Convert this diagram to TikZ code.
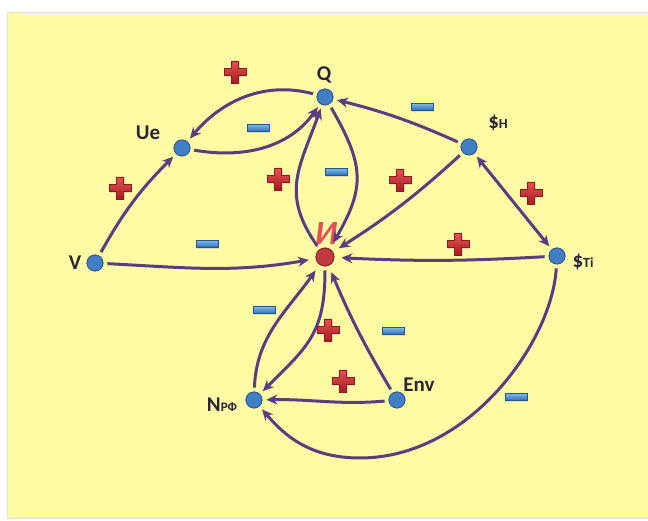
\documentclass[tikz,border=0pt]{standalone}
\usepackage{fontspec}
\setmainfont{Carlito}
\usetikzlibrary{arrows.meta}
\definecolor{bgy}{RGB}{254,251,165}
\definecolor{edgec}{RGB}{88,62,128}
\definecolor{dotb}{RGB}{66,126,196}
\definecolor{dotbd}{RGB}{45,90,150}
\definecolor{dotr}{RGB}{192,58,66}
\definecolor{dotrd}{RGB}{140,35,45}
\definecolor{txt}{RGB}{45,35,55}
\definecolor{ired}{RGB}{232,78,88}
\definecolor{plustop}{RGB}{232,82,82}
\definecolor{plusbot}{RGB}{165,28,32}
\definecolor{plusbd}{RGB}{140,25,30}
\definecolor{mintop}{RGB}{125,185,235}
\definecolor{minbot}{RGB}{45,110,185}
\definecolor{minbd}{RGB}{35,85,145}
\tikzset{
  dot/.style={circle, minimum size=16pt, inner sep=0pt, fill=dotb, draw=dotbd, line width=0.8pt},
  reddot/.style={circle, minimum size=18pt, inner sep=0pt, fill=dotr, draw=dotrd, line width=0.8pt},
  lbl/.style={text=txt, font=\fontsize{21}{21}\selectfont\bfseries, inner sep=0pt},
  conn/.style={draw=edgec, line width=3pt, -{Stealth[length=11pt,width=10pt]}, shorten >=4pt, shorten <=4pt},
  connI/.style={conn, shorten >=7pt},
  connboth/.style={draw=edgec, line width=3pt, {Stealth[length=11pt,width=10pt]}-{Stealth[length=11pt,width=10pt]}, shorten >=4pt, shorten <=4pt},
  plussign/.pic={
    \fill[black!25, opacity=0.5, shift={(1.2,-1.2)}] (-3.6,-11) -- (3.6,-11) -- (3.6,-3.6) -- (11,-3.6) -- (11,3.6) -- (3.6,3.6) -- (3.6,11) -- (-3.6,11) -- (-3.6,3.6) -- (-11,3.6) -- (-11,-3.6) -- (-3.6,-3.6) -- cycle;
    \shade[top color=plustop, bottom color=plusbot, draw=plusbd, line width=0.5pt] (-3.6,-11) -- (3.6,-11) -- (3.6,-3.6) -- (11,-3.6) -- (11,3.6) -- (3.6,3.6) -- (3.6,11) -- (-3.6,11) -- (-3.6,3.6) -- (-11,3.6) -- (-11,-3.6) -- (-3.6,-3.6) -- cycle;
  },
  minussign/.pic={
    \fill[black!25, opacity=0.5, shift={(1.2,-1.2)}] (-11,-3.4) rectangle (11,3.4);
    \shade[top color=mintop, bottom color=minbot, draw=minbd, line width=0.5pt] (-11,-3.4) rectangle (11,3.4);
  }
}
\begin{document}
\begin{tikzpicture}[x=1pt,y=1pt]
\useasboundingbox (0,0) rectangle (648,521);
\fill[white] (0,0) rectangle (648,521);
\fill[bgy, draw=black!12, line width=0.6pt] (7,3) rectangle (652,509);

% nodes
\node[dot] (Q) at (325,424) {};
\node[dot] (Ue) at (182,373) {};
\node[dot] (H) at (469,374) {};
\node[dot] (V) at (95,258) {};
\node[reddot] (I) at (325,264) {};
\node[dot] (Ti) at (557,265) {};
\node[dot] (N) at (254,121) {};
\node[dot] (Env) at (397,121) {};

% labels
\node[lbl] (lQ) at (324,446) {Q};
\node[lbl] (lUe) at (148,388) {Ue};
\node[lbl] (lV) at (75,258) {V};
\node[text=ired, font=\fontsize{34}{34}\selectfont\bfseries\itshape, inner sep=0pt] (lI) at (326,288) {И};
\node[lbl] (lH) at (498,398) {\$\fontsize{14}{14}\selectfont Н};
\node[lbl] (lTi) at (583,259) {\$\fontsize{14}{14}\selectfont Ti};
\node[lbl] (lN) at (222,116) {N\fontsize{13}{13}\selectfont РФ};
\node[lbl] (lEnv) at (419,136) {Env};

% connectors
\draw[conn] (Q) to[out=165, in=50] (Ue);
\draw[conn] (Ue) to[out=-10, in=-125] (Q);
\draw[conn] (V) to[bend left=8] (Ue);
\draw[connI] (V) to[out=-3, in=190] (I);
\draw[conn] (I) to[out=125, in=-110, looseness=1.2] (Q);
\draw[connI] (Q) to[out=-60, in=60, looseness=1.25] (I);
\draw[conn] (H) to[bend right=5] (Q);
\draw[connI] (H) to[bend left=5] (I);
\draw[connboth] (H) -- (Ti);
\draw[connI] (Ti) to[bend left=3] (I);
\draw[conn] (Ti) .. controls (552,180) and (470,63) .. (360,63) .. controls (310,63) and (285,85) .. (N);
\draw[conn] (Env) to[out=185, in=1] (N);
\draw[connI] (Env) to[bend left=4] (I);
\draw[connI] (N) to[out=88, in=235] (I);
\draw[conn] (I) to[out=-90, in=45, looseness=1.2] (N);

% redraw nodes on top
\node[dot] at (Q) {};
\node[dot] at (Ue) {};
\node[dot] at (H) {};
\node[dot] at (V) {};
\node[reddot] at (I) {};
\node[dot] at (Ti) {};
\node[dot] at (N) {};
\node[dot] at (Env) {};

% signs
\pic at (235,449) {plussign};
\pic at (120,333) {plussign};
\pic at (278,342) {plussign};
\pic at (400,341) {plussign};
\pic at (531,328) {plussign};
\pic at (458,277) {plussign};
\pic at (328,191) {plussign};
\pic at (343,140) {plussign};
\pic at (258,393) {minussign};
\pic at (422,414) {minussign};
\pic at (336,349) {minussign};
\pic at (207,277) {minussign};
\pic at (264,211) {minussign};
\pic at (393,190) {minussign};
\pic at (516,124) {minussign};
\end{tikzpicture}
\end{document}
